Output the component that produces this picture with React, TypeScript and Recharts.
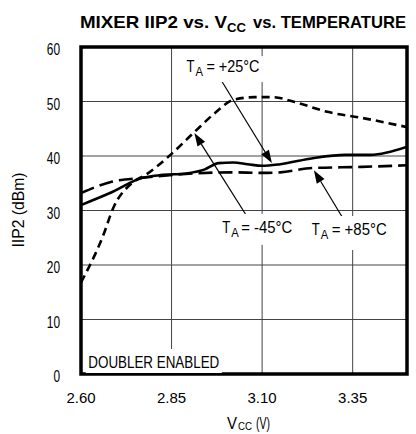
import React from 'react';
import { LineChart, Line, XAxis, YAxis, CartesianGrid, ReferenceLine, ReferenceDot, ReferenceArea } from 'recharts';

const FONT = "'Liberation Sans Narrow', 'Arial Narrow', 'Liberation Sans', Arial, sans-serif";

const xTicks = [2.6, 2.85, 3.1, 3.35];
const xTickLabels = ['2.60', '2.85', '3.10', '3.35'];
const yTicks = [0, 10, 20, 30, 40, 50, 60];

const minus45 = [
  { v: 2.6, y: 16.8 }, { v: 2.66, y: 25.2 }, { v: 2.69, y: 30.6 }, { v: 2.74, y: 35.0 },
  { v: 2.78, y: 36.6 }, { v: 2.84, y: 39.8 }, { v: 2.91, y: 44.2 }, { v: 2.97, y: 47.9 },
  { v: 3.02, y: 50.3 }, { v: 3.08, y: 50.8 }, { v: 3.13, y: 50.8 }, { v: 3.19, y: 49.9 },
  { v: 3.28, y: 48.1 }, { v: 3.375, y: 47.0 }, { v: 3.5, y: 45.3 },
];
const plus25 = [
  { v: 2.6, y: 31.0 }, { v: 2.68, y: 33.2 }, { v: 2.77, y: 36.0 }, { v: 2.82, y: 36.5 },
  { v: 2.89, y: 36.8 }, { v: 2.94, y: 37.5 }, { v: 2.98, y: 38.7 }, { v: 3.02, y: 38.8 },
  { v: 3.06, y: 38.5 }, { v: 3.1, y: 38.2 }, { v: 3.15, y: 38.5 }, { v: 3.24, y: 39.6 },
  { v: 3.33, y: 40.2 }, { v: 3.4, y: 40.2 }, { v: 3.5, y: 41.7 },
];
const plus85 = [
  { v: 2.6, y: 33.2 }, { v: 2.68, y: 35.2 }, { v: 2.77, y: 36.0 }, { v: 2.91, y: 36.8 },
  { v: 3.02, y: 37.0 }, { v: 3.1, y: 36.9 }, { v: 3.15, y: 37.0 }, { v: 3.24, y: 37.8 },
  { v: 3.375, y: 38.0 }, { v: 3.5, y: 38.3 },
];

// annotation arrows: [fromX, fromY, toX, toY]
const arrows = [
  [2.987, 53.9, 3.127, 38.7],
  [3.064, 28.3, 2.913, 44.2],
  [3.331, 27.7, 3.243, 37.4],
];

// label anchors (left of "T", at its baseline)
const labels = [
  { x: 2.891, y: 55.4, temp: '= +25°C', restDx: 20, restLen: 53, box: [-4, -16, 84, 26] },
  { x: 2.99, y: 25.9, temp: '= -45°C', restDx: 19, restLen: 51, box: [-4, -19, 78, 31] },
  { x: 3.237, y: 25.5, temp: '= +85°C', restDx: 20, restLen: 55, box: [-4, -19, 83, 34] },
];

const ArrowShape = (p: any) => {
  const { x1, y1, x2, y2 } = p;
  const dx = x2 - x1, dy = y2 - y1;
  const len = Math.sqrt(dx * dx + dy * dy) || 1;
  const ux = dx / len, uy = dy / len;
  const hl = 13, hw = 4.5;
  const bx = x2 - ux * hl, by = y2 - uy * hl;
  const pts = `${x2},${y2} ${bx - uy * hw},${by + ux * hw} ${bx + uy * hw},${by - ux * hw}`;
  return (
    <g>
      <line x1={x1} y1={y1} x2={bx} y2={by} stroke="#000" strokeWidth={1.2} />
      <polygon points={pts} fill="#000" />
    </g>
  );
};

const makeLabel = (l: any) => (p: any) => {
  const { cx, cy } = p;
  const [bx, by, bw, bh] = l.box;
  return (
    <g>
      <rect x={cx + bx} y={cy + by} width={bw} height={bh} fill="#fff" />
      <text x={cx} y={cy} fontFamily={FONT} fontSize={17} fill="#000" textLength={8} lengthAdjust="spacingAndGlyphs">T</text>
      <text x={cx + 9} y={cy + 4} fontFamily={FONT} fontSize={13} fill="#000" textLength={7.5} lengthAdjust="spacingAndGlyphs">A</text>
      <text x={cx + l.restDx} y={cy} fontFamily={FONT} fontSize={17} fill="#000" textLength={l.restLen} lengthAdjust="spacingAndGlyphs">{l.temp}</text>
    </g>
  );
};

const DoublerLabel = (p: any) => {
  const { cx, cy } = p;
  return (
    <g>
      <rect x={cx - 68} y={cy - 13} width={136} height={24} fill="#fff" />
      <text x={cx - 65.5} y={cy + 6} fontFamily={FONT} fontSize={17} fill="#000" textLength={131} lengthAdjust="spacingAndGlyphs">
        DOUBLER ENABLED
      </text>
    </g>
  );
};

const YTick = (p: any) => {
  const { x, y, payload } = p;
  const s = String(payload.value);
  return (
    <text x={x} y={y + 8} textAnchor="end" fontFamily={FONT} fontSize={16} fill="#000" textLength={s.length * 6.6} lengthAdjust="spacingAndGlyphs">
      {s}
    </text>
  );
};

export default function App() {
  return (
    <div style={{ position: 'absolute', left: 0, top: 0, background: '#fff' }}>
      <LineChart width={416} height={434} margin={{ top: 47, right: 9, bottom: 0, left: 0 }}>
        <CartesianGrid stroke="#444" strokeWidth={1} vertical horizontal />
        <XAxis
          type="number"
          dataKey="v"
          domain={[2.6, 3.5]}
          ticks={xTicks}
          tickFormatter={(v: number) => xTickLabels[xTicks.indexOf(v)] ?? String(v)}
          height={60}
          axisLine={false}
          tickLine={false}
          tickSize={0}
          tickMargin={18}
          tick={{ fontFamily: FONT, fontSize: 15, fill: '#000' }}
          allowDataOverflow
        />
        <YAxis
          type="number"
          domain={[0, 60]}
          ticks={yTicks}
          width={81}
          axisLine={false}
          tickLine={false}
          tickSize={0}
          tickMargin={21}
          tick={YTick}
        />
        {labels.map((l) => (
          <ReferenceDot key={l.temp} x={l.x} y={l.y} r={1} ifOverflow="visible" shape={makeLabel(l)} />
        ))}
        <ReferenceDot x={2.801} y={2.2} r={1} ifOverflow="visible" shape={DoublerLabel} />
        <Line data={plus85} dataKey="y" type="monotone" stroke="#000" strokeWidth={2.6} strokeDasharray="14 6" dot={false} isAnimationActive={false} />
        <Line data={plus25} dataKey="y" type="monotone" stroke="#000" strokeWidth={2.6} dot={false} isAnimationActive={false} />
        <Line data={minus45} dataKey="y" type="monotone" stroke="#000" strokeWidth={2.6} strokeDasharray="8 5" dot={false} isAnimationActive={false} />
        {arrows.map((a, i) => (
          <ReferenceLine key={i} segment={[{ x: a[0], y: a[1] }, { x: a[2], y: a[3] }]} ifOverflow="visible" shape={ArrowShape} />
        ))}
        <ReferenceArea x1={2.6} x2={3.5} y1={0} y2={60} fill="none" fillOpacity={0} stroke="#000" strokeWidth={3.5} ifOverflow="visible" />
        <text x={80} y={28} fontFamily={FONT} fontWeight="bold" fontSize={17} fill="#000" textLength={147} lengthAdjust="spacingAndGlyphs">MIXER IIP2 vs. V</text>
        <text x={227} y={32} fontFamily={FONT} fontWeight="bold" fontSize={13} fill="#000" textLength={19} lengthAdjust="spacingAndGlyphs">CC</text>
        <text x={253} y={28} fontFamily={FONT} fontWeight="bold" fontSize={17} fill="#000" textLength={153} lengthAdjust="spacingAndGlyphs">vs. TEMPERATURE</text>
        <text x={24} y={210} textAnchor="middle" fontFamily={FONT} fontSize={16} fill="#000" transform="rotate(-90 24 210)" textLength={75} lengthAdjust="spacingAndGlyphs">
          IIP2 (dBm)
        </text>
        <text x={227} y={429} fontFamily={FONT} fontSize={17} fill="#000" textLength={10} lengthAdjust="spacingAndGlyphs">V</text>
        <text x={238} y={430} fontFamily={FONT} fontSize={11} fill="#000" textLength={14} lengthAdjust="spacingAndGlyphs">CC</text>
        <text x={256} y={429} fontFamily={FONT} fontSize={17} fill="#000" textLength={14} lengthAdjust="spacingAndGlyphs">(V)</text>
      </LineChart>
    </div>
  );
}
